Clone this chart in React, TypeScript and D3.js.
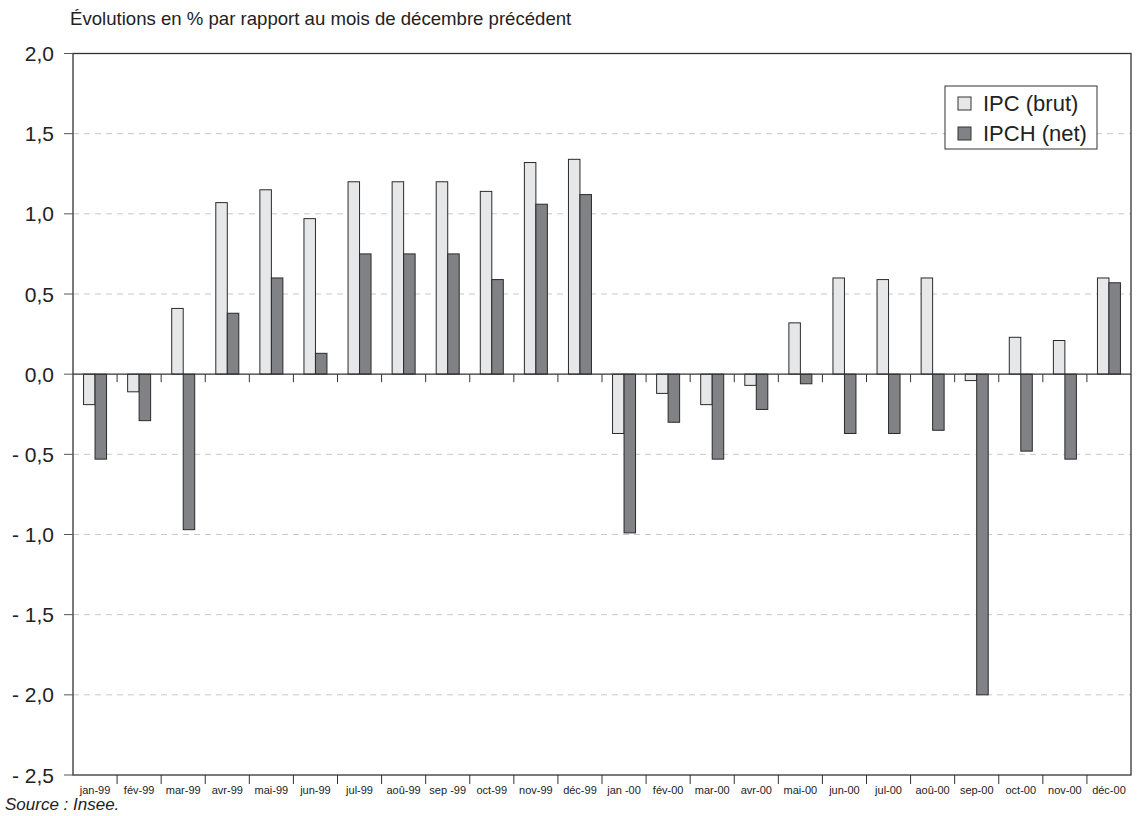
import * as d3 from "d3";

// mois affichés sur l'axe
const months = [
  "jan-99", "fév-99", "mar-99", "avr-99", "mai-99", "jun-99",
  "jul-99", "aoû-99", "sep -99", "oct-99", "nov-99", "déc-99",
  "jan -00", "fév-00", "mar-00", "avr-00", "mai-00", "jun-00",
  "jul-00", "aoû-00", "sep-00", "oct-00", "nov-00", "déc-00",
];

const ipcBrut = [
  -0.19, -0.11, 0.41, 1.07, 1.15, 0.97, 1.2, 1.2, 1.2, 1.14, 1.32, 1.34,
  -0.37, -0.12, -0.19, -0.07, 0.32, 0.6, 0.59, 0.6, -0.04, 0.23, 0.21, 0.6,
];

const ipchNet = [
  -0.53, -0.29, -0.97, 0.38, 0.6, 0.13, 0.75, 0.75, 0.75, 0.59, 1.06, 1.12,
  -0.99, -0.3, -0.53, -0.22, -0.06, -0.37, -0.37, -0.35, -2.0, -0.48, -0.53, 0.57,
];

const seriesNames = ["IPC (brut)", "IPCH (net)"];
const yTicks = [2, 1.5, 1, 0.5, 0, -0.5, -1, -1.5, -2, -2.5];

const width = 1137;
const height = 816;
const font = "'Liberation Sans', Arial, Helvetica, sans-serif";

const fills = ["#e6e7e8", "#808285"];

const fmt = (v: number) => {
  const s = Math.abs(v).toFixed(1).replace(".", ",");
  return v < 0 ? `- ${s}` : s;
};

const App = () => {
  const left = 73;
  const right = 1131;
  const top = 53.5;
  const bottom = 775;

  const x = d3.scaleBand<string>().domain(months).range([left, right]).padding(0);
  const xs = d3.scaleBand<string>()
    .domain(seriesNames)
    .range([0, x.bandwidth()])
    .paddingInner(0)
    .paddingOuter(0.917);
  const y = d3.scaleLinear().domain([-2.5, 2]).range([bottom, top]);

  const series = [ipcBrut, ipchNet];
  const boundaries = months.slice(1).map(m => x(m)!);

  return (
    <svg width={width} height={height} style={{position: "absolute", left: 0, top: 0}} fontFamily={font}>
      <rect width={width} height={height} fill="#fff"/>
      <text x={70} y={25} fontSize={18.6} fill="#222">Évolutions en % par rapport au mois de décembre précédent</text>

      {/* quadrillage */}
      {yTicks.filter(t => t !== 0 && t !== 2 && t !== -2.5).map(t => (
        <line key={t} x1={left} x2={right} y1={y(t)} y2={y(t)} stroke="#c8c8c8" strokeWidth={1} strokeDasharray="6,5"/>
      ))}

      {/* barres */}
      {series.map((vals, si) => vals.map((v, i) => {
        const x0 = x(months[i])! + xs(seriesNames[si])!;
        return (
          <rect key={`${si}-${i}`}
                x={x0} width={xs.bandwidth()}
                y={y(Math.max(0, v))} height={Math.abs(y(v) - y(0))}
                fill={fills[si]} stroke="#2a2a2a" strokeWidth={1}/>
        );
      }))}

      {/* axe des catégories à zéro */}
      <line x1={left} x2={right} y1={y(0)} y2={y(0)} stroke="#333" strokeWidth={1.2}/>
      {boundaries.map((bx, i) => (
        <line key={i} x1={bx} x2={bx} y1={y(0)} y2={y(0) + 8} stroke="#333" strokeWidth={1}/>
      ))}

      {/* cadre */}
      <rect x={left} y={top} width={right - left} height={bottom - top} fill="none" stroke="#333" strokeWidth={1.3}/>
      {boundaries.map((bx, i) => (
        <line key={i} x1={bx} x2={bx} y1={bottom} y2={bottom + 9} stroke="#333" strokeWidth={1}/>
      ))}

      {/* axe vertical */}
      {yTicks.map(t => (
        <g key={t}>
          <line x1={left - 9} x2={left} y1={y(t)} y2={y(t)} stroke="#555" strokeWidth={1}/>
          <text x={54} y={y(t)} dy="0.36em" textAnchor="end" fontSize={21} fill="#222">{fmt(t)}</text>
        </g>
      ))}

      {/* étiquettes des mois */}
      {months.map(m => (
        <text key={m} x={x(m)! + x.bandwidth() / 2} y={794} textAnchor="middle" fontSize={11} fill="#222">{m}</text>
      ))}

      <text x={5} y={810} fontSize={17} fontStyle="italic" fill="#222">Source : Insee.</text>

      {/* légende */}
      <rect x={945} y={86} width={152} height={63} fill="#fff" stroke="#333" strokeWidth={1}/>
      {seriesNames.map((name, i) => (
        <g key={name} transform={`translate(958,${97 + i * 30})`}>
          <rect width={13} height={13} fill={fills[i]} stroke="#333" strokeWidth={1}/>
          <text x={25} y={6.5} dy="0.36em" fontSize={22} fill="#222">{name}</text>
        </g>
      ))}
    </svg>
  );
};

export default App;
